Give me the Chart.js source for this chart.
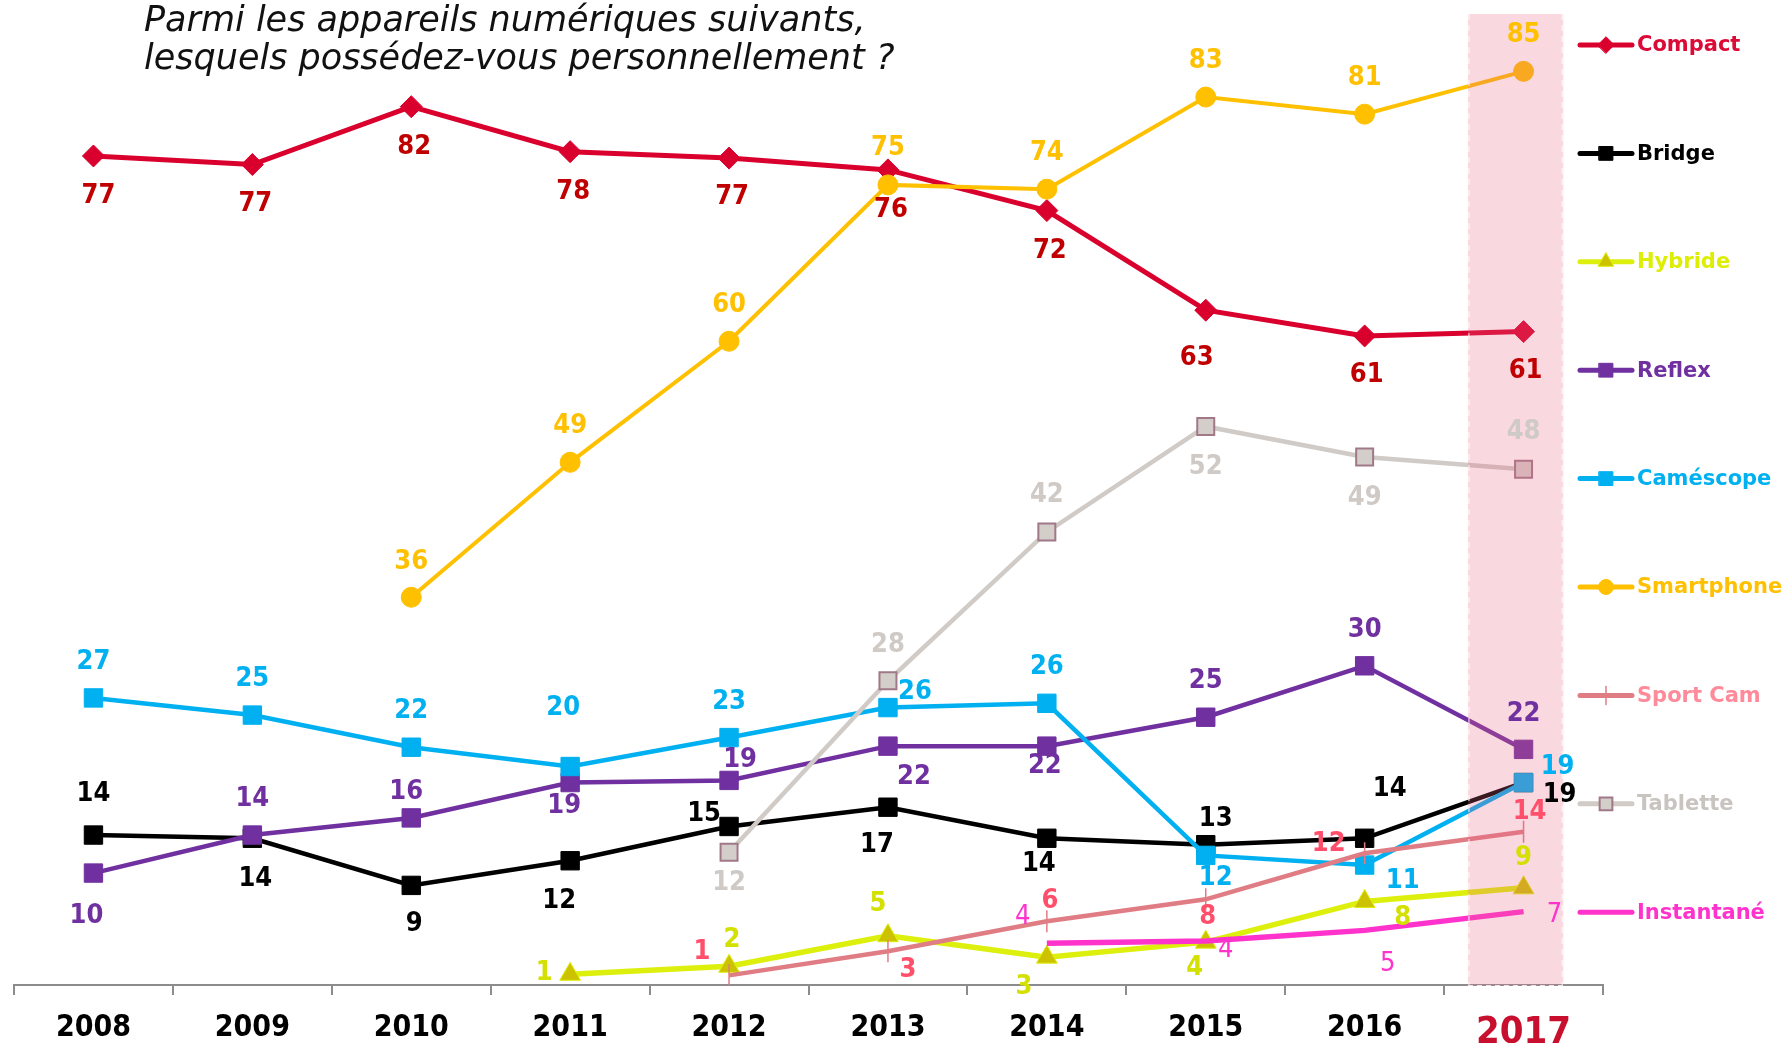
<!DOCTYPE html>
<html lang="fr">
<head>
  <meta charset="UTF-8">
  <title>Appareils numériques possédés</title>
  <script src="https://cdn.jsdelivr.net/npm/chart.js"></script>
  <style>
    html, body {
      margin: 0;
      padding: 0;
      background: #fff;
    }
    body {
      width: 1783px;
      height: 1043px;
      overflow: hidden;
      position: relative;
    }
    #title {
      position: absolute;
      left: 144px;
      top: 0px;
      font-family: 'DejaVu Sans', sans-serif;
      font-style: italic;
      font-weight: 200;
      font-size: 35px;
      line-height: 38px;
      color: #111;
      z-index: 2;
      pointer-events: none;
    }
    #chart {
      position: absolute;
      left: 0;
      top: 0;
    }
  </style>
</head>
<body>
  <canvas id="chart" width="1783" height="1043"></canvas>
  <div id="title">Parmi les appareils numériques suivants,<br>lesquels possédez-vous personnellement ?</div>

<script>
  // données (%)
  const years = ['2008', '2009', '2010', '2011', '2012', '2013', '2014', '2015', '2016', '2017'];
  const seriesNames = ['Compact', 'Bridge', 'Hybride', 'Reflex', 'Caméscope', 'Smartphone', 'Sport Cam', 'Tablette', 'Instantané'];

  const compact    = [77.4, 76.6, 82.0, 77.8, 77.2, 76.1, 72.3, 63.0, 60.6, 61.0];
  const bridge     = [14.0, 13.7, 9.3, 11.6, 14.8, 16.6, 13.7, 13.1, 13.7, 18.9];
  const hybride    = [null, null, null, 1.0, 1.75, 4.6, 2.6, 4.0, 7.8, 9.07];
  const reflex     = [10.45, 14.0, 15.6, 18.9, 19.1, 22.3, 22.3, 25.0, 29.8, 22.0];
  const camescope  = [26.8, 25.2, 22.2, 20.4, 23.1, 25.9, 26.3, 12.1, 11.2, 18.9];
  const smartphone = [null, null, 36.2, 48.8, 60.1, 74.7, 74.3, 82.9, 81.3, 85.3];
  const sportCam   = [null, null, null, null, 0.9, 3.15, 5.95, 8.0, 12.3, 14.3];
  const tablette   = [null, null, null, null, 12.4, 28.4, 42.3, 52.15, 49.3, 48.15];
  const instantane = [null, null, null, null, null, null, 3.9, 4.1, 5.1, 6.85];

  // décalage des étiquettes par rapport au point (px)
  const compactPos = [[5,40],[3,39],[3,40],[3,40],[3,39],[3,40],[3,40],[-9,48],[2,39],[2,39]];
  const bridgePos  = [[0,-41],[3,41],[3,39],[-11,40],[-25,-12],[-11,38],[-8,26],[10,-26],[25,-49],[36,12]];
  const hybridePos = [null,null,null,[-26,-1],[3,-26],[-10,-32],[-23,30],[-11,26],[38,17],[0,-30]];
  const reflexPos  = [[-7,43],[0,-36],[-5,-26],[-6,23],[11,-20],[26,31],[-2,20],[0,-36],[0,-36],[0,-35]];
  const camPos     = [[0,-36],[0,-36],[0,-36],[-7,-59],[0,-36],[27,-16],[0,-36],[10,23],[38,16],[34,-16]];
  const smartPos   = [null,null,[0,-35],[0,-36],[0,-36],[0,-37],[0,-36],[0,-36],[0,-36],[0,-36]];
  const sportPos   = [null,null,null,null,[-27,-23],[20,19],[3,-20],[2,18],[-36,-9],[6,-20]];
  const tabPos     = [null,null,null,null,[0,31],[0,-36],[0,-37],[0,41],[0,41],[0,-37]];
  const instPos    = [null,null,null,null,null,null,[-24,-26],[20,9],[23,34],[31,3]];

  const lineColors  = ['#D9002E', '#000000', '#DDEF0C', '#7030A0', '#00B0F0', '#FFC000', '#E07C84', '#D0CBC6', '#FF33CC'];
  const labelColors = ['#C00000', '#000000', '#D3E000', '#7030A0', '#00B0F0', '#FFC000', '#FF4F6A', '#CFCAC5', '#FF33CC'];
  const legendColors = ['#DC0A36', '#000000', '#DDEE00', '#7030A0', '#00B0F0', '#FFC000', '#FF8A9A', '#C8C4C0', '#FF33CC'];

  const allSeries = [compact, bridge, hybride, reflex, camescope, smartphone, sportCam, tablette, instantane];
  const allPos = [compactPos, bridgePos, hybridePos, reflexPos, camPos, smartPos, sportPos, tabPos, instPos];

  const pointStyles = ['rectRot', 'rect', 'triangle', 'rect', 'rect', 'circle', 'line', 'rect', false];
  const pointSizes  = [11, 13, 12, 13, 13, 10, 11, 12, 0];
  const pointFills  = ['#D9002E', '#000000', '#CCC200', '#7030A0', '#00B0F0', '#FFC000', '#E07C84', '#D4CECA', '#FF33CC'];
  const pointBorders = ['#D9002E', '#000000', '#DDEF0C', '#7030A0', '#00B0F0', '#FFC000', '#E07C84', '#A07888', '#FF33CC'];
  const pointBorderW = [1, 1, 1, 1, 1, 1, 1.5, 2, 0];
  const lineWidths  = [5, 4.5, 5.5, 4.5, 4.5, 4, 4.5, 4.5, 5.5];

  const labelFont = "'DejaVu Sans Condensed', 'Liberation Sans', sans-serif";

  const datasets = seriesNames.map(function (name, i) {
    return {
      label: name,
      data: allSeries[i],
      borderColor: lineColors[i],
      borderWidth: lineWidths[i],
      backgroundColor: pointFills[i],
      pointStyle: pointStyles[i],
      pointRadius: pointSizes[i],
      pointHoverRadius: pointSizes[i],
      pointBackgroundColor: pointFills[i],
      pointBorderColor: pointBorders[i],
      pointBorderWidth: pointBorderW[i],
      pointRotation: i === 6 ? 90 : 0,
      tension: 0,
      fill: false,
      order: 9 - i
    };
  });

  const extras = {
    id: 'extras',
    afterDatasetsDraw(chart) {
      const ctx = chart.ctx;
      const xs = chart.scales.x;
      const area = chart.chartArea;
      const step = xs.getPixelForValue(1) - xs.getPixelForValue(0);
      const cx = xs.getPixelForValue(9);

      // bande 2017
      const bx0 = cx - 0.35 * step, bx1 = cx + 0.25 * step;
      ctx.save();
      ctx.fillStyle = 'rgba(230, 100, 130, 0.25)';
      ctx.fillRect(bx0, 14, bx1 - bx0, area.bottom - 14);
      ctx.strokeStyle = 'rgba(255,255,255,0.6)';
      ctx.lineWidth = 1.5;
      ctx.setLineDash([6, 5]);
      ctx.beginPath();
      ctx.moveTo(bx0 + 1, 14);
      ctx.lineTo(bx0 + 1, area.bottom);
      ctx.moveTo(bx1 - 1, 14);
      ctx.lineTo(bx1 - 1, area.bottom);
      ctx.stroke();
      ctx.strokeStyle = 'rgba(255,255,255,0.8)';
      ctx.lineWidth = 2;
      ctx.setLineDash([5, 4]);
      ctx.beginPath();
      ctx.moveTo(bx0, area.bottom + 1);
      ctx.lineTo(bx1, area.bottom + 1);
      ctx.stroke();
      ctx.restore();

      // étiquettes de valeurs
      ctx.save();
      ctx.textAlign = 'center';
      ctx.textBaseline = 'middle';
      chart.data.datasets.forEach(function (ds, i) {
        const meta = chart.getDatasetMeta(i);
        ctx.fillStyle = labelColors[i];
        ctx.font = (i === 8 ? 'normal' : 'bold') + ' 27px ' + labelFont;
        ds.data.forEach(function (v, j) {
          if (v === null || !allPos[i][j]) return;
          const pt = meta.data[j];
          ctx.fillText(String(Math.round(v)), pt.x + allPos[i][j][0], pt.y + allPos[i][j][1]);
        });
      });
      ctx.restore();
    },
    afterDraw(chart) {
      // légende à droite
      const ctx = chart.ctx;
      const x0 = 1580, x1 = 1632;
      ctx.save();
      seriesNames.forEach(function (name, i) {
        const y = 45 + i * 108.4;
        ctx.strokeStyle = lineColors[i];
        ctx.lineWidth = 5;
        ctx.lineCap = 'round';
        ctx.beginPath();
        ctx.moveTo(x0, y);
        ctx.lineTo(x1, y);
        ctx.stroke();
        if (pointStyles[i]) {
          ctx.fillStyle = pointFills[i];
          ctx.strokeStyle = pointBorders[i];
          ctx.lineWidth = pointBorderW[i];
          Chart.helpers.drawPoint(ctx, {
            pointStyle: pointStyles[i],
            radius: i === 6 ? 9 : pointSizes[i] * 0.75,
            rotation: i === 6 ? 90 : 0,
            borderWidth: pointBorderW[i]
          }, (x0 + x1) / 2, y);
        }
        ctx.fillStyle = legendColors[i];
        ctx.font = "bold 21px 'DejaVu Sans', sans-serif";
        ctx.textAlign = 'left';
        ctx.textBaseline = 'middle';
        ctx.fillText(name, 1637, y + 1);
      });
      ctx.restore();
    }
  };

  new Chart(document.getElementById('chart').getContext('2d'), {
    type: 'line',
    data: { labels: years, datasets: datasets },
    options: {
      responsive: false,
      animation: false,
      layout: { padding: { left: 9, right: 180, top: 21, bottom: 0 } },
      plugins: {
        legend: { display: false },
        tooltip: { enabled: false },
        title: { display: false }
      },
      scales: {
        x: {
          offset: true,
          grid: {
            offset: true,
            drawOnChartArea: false,
            drawTicks: true,
            tickLength: 10,
            color: '#8c8c8c',
            lineWidth: 2
          },
          border: { display: true, color: '#8c8c8c', width: 2 },
          ticks: {
            padding: 15,
            color: function (c) { return c.index === 9 ? '#C8102E' : '#000'; },
            font: function (c) {
              return c.index === 9
                ? { family: labelFont, size: 38, weight: 'bold' }
                : { family: labelFont, size: 30, weight: 'bold' };
            }
          },
          afterFit: function (s) { s.height = 58; }
        },
        y: { display: false, min: 0, max: 90 }
      }
    },
    plugins: [extras]
  });
</script>
</body>
</html>
